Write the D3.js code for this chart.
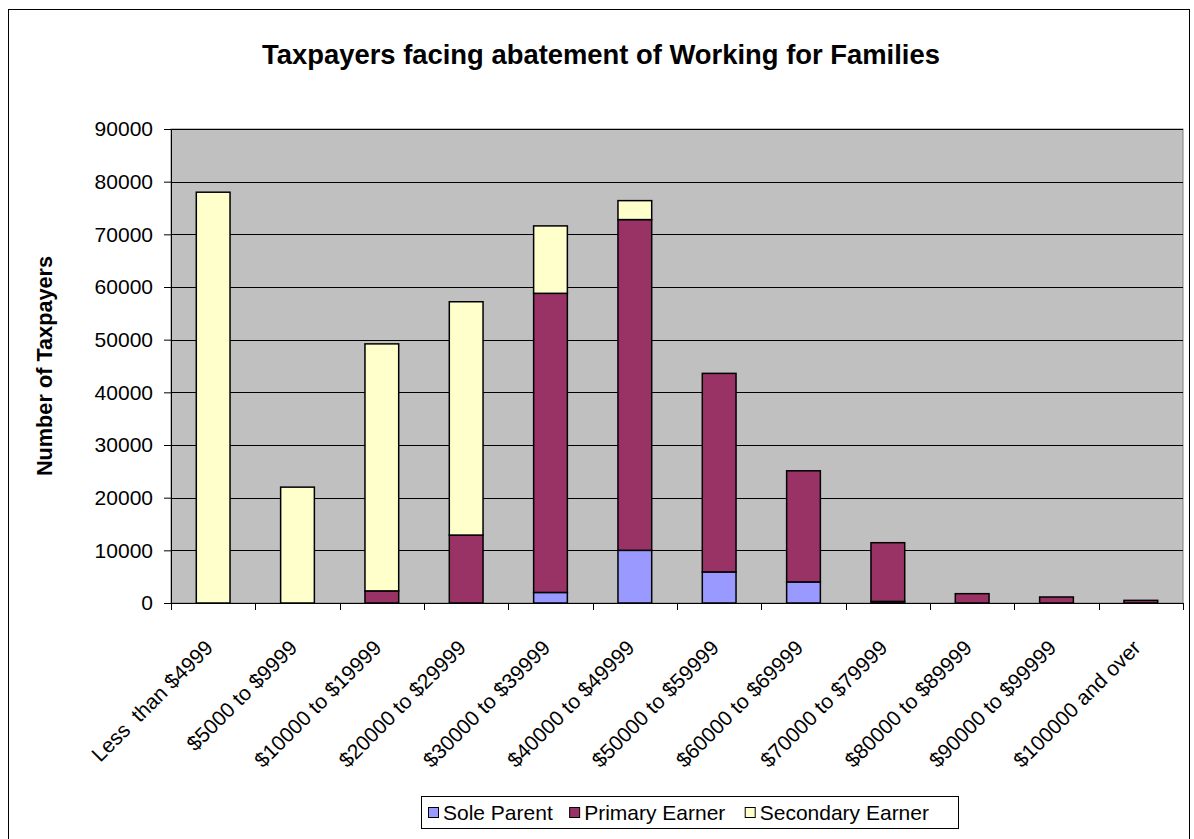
<!DOCTYPE html>
<html>
<head>
<meta charset="utf-8">
<script src="https://cdn.jsdelivr.net/npm/d3@7/dist/d3.min.js"></script>
<style>
  html, body { margin: 0; padding: 0; background: #fff; }
  svg { display: block; font-family: Arial, "Liberation Sans", sans-serif; }
</style>
</head>
<body>
<svg id="chart" width="1194" height="839"></svg>
<script>
// Income bands (taxable income) and taxpayer counts per group
const categories = [
  "Less  than $4999", "$5000 to $9999", "$10000 to $19999", "$20000 to $29999",
  "$30000 to $39999", "$40000 to $49999", "$50000 to $59999", "$60000 to $69999",
  "$70000 to $79999", "$80000 to $89999", "$90000 to $99999", "$100000 and over"
];
const seriesNames = ["Sole Parent", "Primary Earner", "Secondary Earner"];
const soleParent      = [0, 0, 0, 0, 2000, 10000, 5900, 4000, 300, 0, 0, 0];
const primaryEarner   = [0, 0, 2300, 12900, 56800, 62800, 37700, 21100, 11150, 1770, 1140, 500];
const secondaryEarner = [78000, 22000, 46900, 44300, 12800, 3600, 0, 0, 0, 0, 0, 0];
const yTicks = [0, 10000, 20000, 30000, 40000, 50000, 60000, 70000, 80000, 90000];
const colors = ["#9999FF", "#993366", "#FFFFCC"];

const rows = categories.map((c, i) => ({
  cat: c,
  "Sole Parent": soleParent[i],
  "Primary Earner": primaryEarner[i],
  "Secondary Earner": secondaryEarner[i]
}));

const svg = d3.select("#chart");
const H = 839;

// outer chart frame
svg.append("rect")
  .attr("x", 8.5).attr("y", 9.5)
  .attr("width", 1181).attr("height", H + 10)
  .attr("fill", "#fff").attr("stroke", "#000").attr("stroke-width", 1);

const plot = { left: 171, top: 129, right: 1183, bottom: 603 };

const x = d3.scaleBand()
  .domain(categories)
  .range([plot.left, plot.right])
  .padding(0);

const y = d3.scaleLinear()
  .domain([0, 90000])
  .range([plot.bottom, plot.top]);

// plot area background
svg.append("rect")
  .attr("x", plot.left).attr("y", plot.top)
  .attr("width", plot.right - plot.left).attr("height", plot.bottom - plot.top)
  .attr("fill", "#C0C0C0")
  .attr("stroke", "#808080").attr("stroke-width", 1);

// horizontal gridlines
svg.append("g")
  .selectAll("line")
  .data(yTicks.filter(d => d > 0))
  .join("line")
  .attr("x1", plot.left).attr("x2", plot.right)
  .attr("y1", d => Math.round(y(d)) + 0.5).attr("y2", d => Math.round(y(d)) + 0.5)
  .attr("stroke", "#000").attr("stroke-width", 1);

// stacked bars
const stack = d3.stack().keys(seriesNames);
const layers = stack(rows);
const bw = x.bandwidth() * 0.4;

svg.append("g")
  .selectAll("g")
  .data(layers)
  .join("g")
  .attr("fill", (d, i) => colors[i])
  .selectAll("rect")
  .data(d => d.filter(p => p[1] - p[0] > 0))
  .join("rect")
  .attr("x", d => x(d.data.cat) + (x.bandwidth() - bw) / 2)
  .attr("y", d => y(d[1]))
  .attr("width", bw)
  .attr("height", d => y(d[0]) - y(d[1]))
  .attr("stroke", "#000")
  .attr("stroke-width", 1.5);

// y axis
const yAxis = svg.append("g")
  .attr("transform", `translate(${plot.left},0)`)
  .call(d3.axisLeft(y).tickValues(yTicks).tickFormat(d3.format("d")).tickSize(7).tickPadding(11));
yAxis.select(".domain").attr("stroke", "#000");
yAxis.selectAll(".tick line").attr("stroke", "#000");
yAxis.selectAll(".tick text")
  .attr("font-size", 21)
  .attr("font-family", "Arial, 'Liberation Sans', sans-serif")
  .attr("fill", "#000");

// x axis: baseline, tick marks at category boundaries, rotated labels
const xg = svg.append("g");
xg.append("line")
  .attr("x1", plot.left).attr("x2", plot.right)
  .attr("y1", plot.bottom + 0.5).attr("y2", plot.bottom + 0.5)
  .attr("stroke", "#000");
const boundaries = categories.map(c => x(c)).concat([x(categories[categories.length - 1]) + x.bandwidth()]);
xg.selectAll("line.tick")
  .data(boundaries)
  .join("line")
  .attr("class", "tick")
  .attr("x1", d => Math.round(d) + 0.5).attr("x2", d => Math.round(d) + 0.5)
  .attr("y1", plot.bottom).attr("y2", plot.bottom + 7)
  .attr("stroke", "#000");
xg.selectAll("text")
  .data(categories)
  .join("text")
  .attr("transform", d => `translate(${x(d) + x.bandwidth() / 2 + 1},${plot.bottom + 46}) rotate(-45)`)
  .attr("text-anchor", "end")
  .attr("font-size", 21)
  .attr("fill", "#000")
  .style("white-space", "pre")
  .text(d => d);

// title
svg.append("text")
  .attr("x", 601).attr("y", 64)
  .attr("text-anchor", "middle")
  .attr("font-size", 27.4)
  .attr("font-weight", "bold")
  .text("Taxpayers facing abatement of Working for Families");

// y axis title
svg.append("text")
  .attr("transform", `translate(52,${(plot.top + plot.bottom) / 2}) rotate(-90)`)
  .attr("text-anchor", "middle")
  .attr("font-size", 21.7)
  .attr("font-weight", "bold")
  .text("Number of Taxpayers");

// legend: fixed box, entries spaced in proportion to their label widths
const legendBox = { x: 421, y: 796, w: 537, h: 32 };
const lg = svg.append("g");
lg.append("rect")
  .attr("x", legendBox.x + 0.5).attr("y", legendBox.y + 0.5)
  .attr("width", legendBox.w).attr("height", legendBox.h)
  .attr("fill", "#fff").attr("stroke", "#000");
const items = lg.selectAll("g.item")
  .data(seriesNames)
  .join("g")
  .attr("class", "item");
items.append("rect")
  .attr("x", 0.5).attr("y", legendBox.y + 11.5)
  .attr("width", 10).attr("height", 10)
  .attr("fill", (d, i) => colors[i])
  .attr("stroke", "#000");
items.append("text")
  .attr("x", 15).attr("y", legendBox.y + 23.5)
  .attr("font-size", 21)
  .text(d => d);
const widths = [];
items.each(function () { widths.push(d3.select(this).select("text").node().getComputedTextLength()); });
const slack = (legendBox.w - 14 - widths.length * 21) / d3.sum(widths);
let cx = legendBox.x + 7;
items.each(function (d, i) {
  d3.select(this).attr("transform", `translate(${cx},0)`);
  cx += 21 + widths[i] * slack;
});
</script>
</body>
</html>
